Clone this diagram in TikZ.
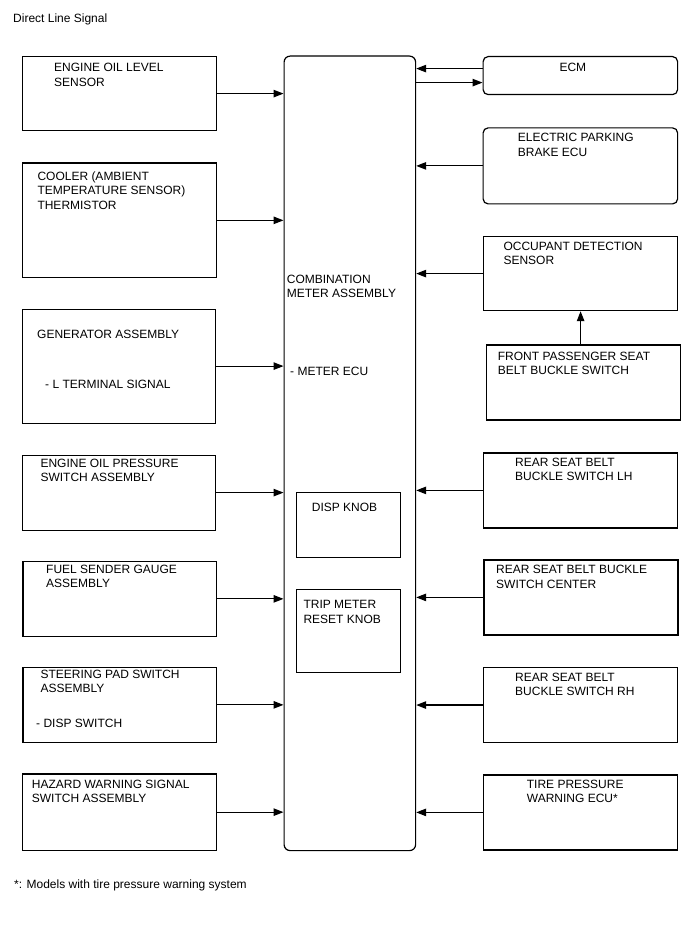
\documentclass[tikz,border=0pt]{standalone}
\usepackage{fontspec}
\setmainfont{Liberation Sans}
\usetikzlibrary{arrows.meta,positioning}

\begin{document}
\begin{tikzpicture}[x=1pt, y=-1pt,
  blk/.style={draw=black, line width=1.2pt, inner sep=0pt, anchor=north west},
  rblk/.style={blk, rounded corners=5pt},
  lbl/.style={anchor=base west, inner sep=0pt, align=left,
              font=\fontsize{12}{14.4}\selectfont},
  arr/.style={line width=1.2pt, -{Triangle[length=10pt,width=7.5pt]}}]
  \useasboundingbox (0,0) rectangle (688,949);
  \node[lbl] (title) at (13,23) {Direct Line Signal};
  % main unit
  \node[rblk, rounded corners=6pt, minimum width=131.5pt, minimum height=794.5pt] (main) at (283.5,55.5) {};
  \node[lbl] at (286.7,298) {COMBINATION\\METER ASSEMBLY};
  \node[lbl] at (290,375) {- METER ECU};
  \node[blk, minimum width=104pt, minimum height=64.5pt] (disp) at (296,492) {};
  \node[lbl] at (311.7,511.3) {DISP KNOB};
  \node[blk, minimum width=104pt, minimum height=82.5pt] (trip) at (296,589) {};
  \node[lbl] at (303.3,623) {TRIP METER\\RESET KNOB};
  % left side
  \node[blk, minimum width=193.5pt, minimum height=74pt] (l1) at (22,56) {};
  \node[lbl] at (54,86.4) {ENGINE OIL LEVEL\\SENSOR};
  \node[blk, minimum width=194pt, minimum height=114.5pt] (l2) at (22,162.5) {};
  \node[lbl] at (37.3,209.1) {COOLER (AMBIENT\\TEMPERATURE SENSOR)\\THERMISTOR};
  \node[blk, minimum width=192.5pt, minimum height=114pt] (l3) at (22,308.5) {};
  \node[lbl] at (37,338.6) {GENERATOR ASSEMBLY};
  \node[lbl] at (45,388.6) {- L TERMINAL SIGNAL};
  \node[blk, minimum width=193.5pt, minimum height=75pt] (l4) at (21.5,454.5) {};
  \node[lbl] at (40.3,481.4) {ENGINE OIL PRESSURE\\SWITCH ASSEMBLY};
  \node[blk, minimum width=193.5pt, minimum height=74.5pt] (l5) at (22.3,561) {};
  \node[lbl] at (46,587.4) {FUEL SENDER GAUGE\\ASSEMBLY};
  \node[blk, minimum width=193.5pt, minimum height=74.5pt] (l6) at (22.3,667) {};
  \node[lbl] at (40.3,692.4) {STEERING PAD SWITCH\\ASSEMBLY};
  \node[lbl] at (36,727) {- DISP SWITCH};
  \node[blk, minimum width=194pt, minimum height=76.5pt] (l7) at (21.7,773.3) {};
  \node[lbl] at (31.7,802.4) {HAZARD WARNING SIGNAL\\SWITCH ASSEMBLY};
  % right side
  \node[rblk, minimum width=194.5pt, minimum height=38pt] (r1) at (482.5,56) {};
  \node[lbl] at (559.3,72) {ECM};
  \node[rblk, minimum width=194.5pt, minimum height=76pt] (r2) at (482.5,127.3) {};
  \node[lbl] at (517.7,156.4) {ELECTRIC PARKING\\BRAKE ECU};
  \node[blk, minimum width=194pt, minimum height=74pt] (r3) at (483,236) {};
  \node[lbl] at (503.3,264.7) {OCCUPANT DETECTION\\SENSOR};
  \node[blk, minimum width=194pt, minimum height=75pt] (r4) at (486,344.3) {};
  \node[lbl] at (497.7,374.7) {FRONT PASSENGER SEAT\\BELT BUCKLE SWITCH};
  \node[blk, minimum width=194pt, minimum height=75pt] (r5) at (482.7,452.3) {};
  \node[lbl] at (515,480.7) {REAR SEAT BELT\\BUCKLE SWITCH LH};
  \node[blk, minimum width=194pt, minimum height=75pt] (r6) at (483.3,559.3) {};
  \node[lbl] at (496,588) {REAR SEAT BELT BUCKLE\\SWITCH CENTER};
  \node[blk, minimum width=194pt, minimum height=75.5pt] (r7) at (483,666.7) {};
  \node[lbl] at (515,695.7) {REAR SEAT BELT\\BUCKLE SWITCH RH};
  \node[blk, minimum width=194pt, minimum height=75pt] (r8) at (483,774.3) {};
  \node[lbl] at (526.7,802.4) {TIRE PRESSURE\\WARNING ECU*};
  \node[lbl] (note) at (14,888) {*: Models with tire pressure warning system};
  % connectors
  \foreach \n in {l1,l2,l3,l4,l5,l6,l7}
    \draw[arr] (\n.east) -- (\n.east -| main.west);
  \foreach \n in {r2,r3,r5,r6,r7,r8}
    \draw[arr] (\n.west) -- (\n.west -| main.east);
  \draw[arr] ([yshift=7pt]r1.west) -- ([yshift=7pt]r1.west -| main.east);
  \draw[arr] ([yshift=-7pt]r1.west -| main.east) -- ([yshift=-7pt]r1.west);
  \draw[arr] (r3.south |- r4.north) -- (r3.south);
\end{tikzpicture}
\end{document}
